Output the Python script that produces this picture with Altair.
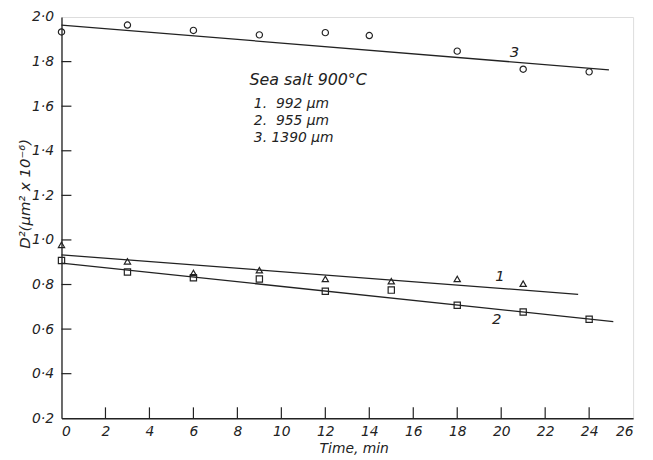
import altair as alt
import pandas as pd

# Series (time in min, D^2 in um^2 x 1e-6)
t1 = [0, 3, 6, 9, 12, 15, 18, 21]
d1 = [0.978, 0.904, 0.852, 0.864, 0.825, 0.815, 0.825, 0.804]
t2 = [0, 3, 6, 9, 12, 15, 18, 21, 24]
d2 = [0.908, 0.856, 0.830, 0.825, 0.770, 0.775, 0.707, 0.677, 0.644]
t3 = [0, 3, 6, 9, 12, 14, 18, 21, 24]
d3 = [1.933, 1.964, 1.940, 1.920, 1.930, 1.917, 1.847, 1.766, 1.754]

# Fitted straight lines (end points)
fit1_t = [0, 23.5]; fit1_d = [0.933, 0.756]
fit2_t = [0, 25.1]; fit2_d = [0.896, 0.634]
fit3_t = [0, 24.9]; fit3_d = [1.964, 1.763]

# Curve labels
lab_text = ["1", "2", "3"]
lab_t = [19.95, 19.8, 20.6]
lab_d = [0.836, 0.644, 1.844]

# Legend text block
legend_title = ["Sea salt 900°C"]
legend_title_t = [8.55]
legend_title_d = [1.716]
legend_lines = ["1.\u00a0\u00a0992\u00a0µm", "2.\u00a0\u00a0955\u00a0µm", "3.\u00a01390\u00a0µm"]
legend_t = [8.75, 8.75, 8.75]
legend_d = [1.609, 1.533, 1.458]

x_ticks = [2, 4, 6, 8, 10, 12, 14, 16, 18, 20, 22, 24]
y_ticks = [0.4, 0.6, 0.8, 1.0, 1.2, 1.4, 1.6, 1.8]

W, H = 577, 405
FONT = "DejaVu Sans"
INK = "#222"

xs = alt.Scale(domain=[0, 26], nice=False, zero=False)
ys = alt.Scale(domain=[0.2, 2.0], nice=False, zero=False)

pts = pd.concat([
    pd.DataFrame({"t": t1, "d": d1, "s": "1"}),
    pd.DataFrame({"t": t2, "d": d2, "s": "2"}),
    pd.DataFrame({"t": t3, "d": d3, "s": "3"}),
])
fits = pd.concat([
    pd.DataFrame({"t": fit1_t, "d": fit1_d, "s": "1"}),
    pd.DataFrame({"t": fit2_t, "d": fit2_d, "s": "2"}),
    pd.DataFrame({"t": fit3_t, "d": fit3_d, "s": "3"}),
])

x_enc = alt.X("t:Q", scale=xs, axis=alt.Axis(
    values=list(range(0, 27, 2)), ticks=False, grid=False, domainColor=INK,
    domainWidth=1.3, labelFont=FONT, labelFontStyle="italic", labelFontSize=14,
    labelColor=INK, labelPadding=6, title="Time, min", titleFont=FONT,
    titleFontStyle="italic", titleFontWeight="normal", titleFontSize=14,
    titleColor=INK, titleX=295, titleY=31, titleAlign="center",
    titleBaseline="middle"))
y_enc = alt.Y("d:Q", scale=ys, axis=alt.Axis(
    values=[round(0.2 + 0.2 * i, 1) for i in range(10)], ticks=False, grid=False,
    domainColor=INK, domainWidth=1.3, labelFont=FONT, labelFontStyle="italic",
    labelFontSize=14, labelColor=INK, labelPadding=8,
    labelExpr="replace(format(datum.value, '.1f'), '.', '·')",
    title="D²(µm² x 10⁻⁶)", titleFont=FONT, titleFontStyle="italic",
    titleFontWeight="normal", titleFontSize=15, titleColor=INK,
    titleX=-37, titleY=178, titleAngle=270, titleAlign="center",
    titleBaseline="middle"))

lines = alt.Chart(fits).mark_line(color=INK, strokeWidth=1.3).encode(
    x=x_enc, y=y_enc, detail="s:N")

shape_scale = alt.Scale(domain=["1", "2", "3"],
                        range=["triangle-up", "square", "circle"])
points = alt.Chart(pts).mark_point(filled=False, color=INK, size=40,
                                   strokeWidth=1.2, opacity=1).encode(
    x="t:Q", y="d:Q", shape=alt.Shape("s:N", scale=shape_scale, legend=None))

labels = alt.Chart(pd.DataFrame({"t": lab_t, "d": lab_d, "txt": lab_text})).mark_text(
    font=FONT, fontStyle="italic", fontSize=15, color=INK).encode(
    x="t:Q", y="d:Q", text="txt:N")

legend_head = alt.Chart(pd.DataFrame({"t": legend_title_t, "d": legend_title_d,
                                      "txt": legend_title})).mark_text(
    font=FONT, fontStyle="italic", fontSize=16, color=INK, align="left",
    baseline="middle").encode(x="t:Q", y="d:Q", text="txt:N")

legend = alt.Chart(pd.DataFrame({"t": legend_t, "d": legend_d, "txt": legend_lines})).mark_text(
    font=FONT, fontStyle="italic", fontSize=14, color=INK, align="left",
    baseline="middle").encode(x="t:Q", y="d:Q", text="txt:N")

xt = alt.Chart(pd.DataFrame({"t": x_ticks})).mark_rule(color=INK, strokeWidth=1.2).encode(
    x="t:Q", y=alt.value(H), y2=alt.value(H - 11))
yt = alt.Chart(pd.DataFrame({"d": y_ticks})).mark_rule(color=INK, strokeWidth=1.2).encode(
    y="d:Q", x=alt.value(0), x2=alt.value(10))

chart = alt.layer(lines, points, labels, legend_head, legend, xt, yt).properties(
    width=W, height=H,
    autosize=alt.AutoSizeParams(type="none"),
    padding={"left": 54, "top": 7, "right": 12, "bottom": 38},
).configure_view(stroke=INK, strokeWidth=1.3).configure(background="white")

chart.save("out.html", embed_options={"renderer": "svg", "actions": False})
